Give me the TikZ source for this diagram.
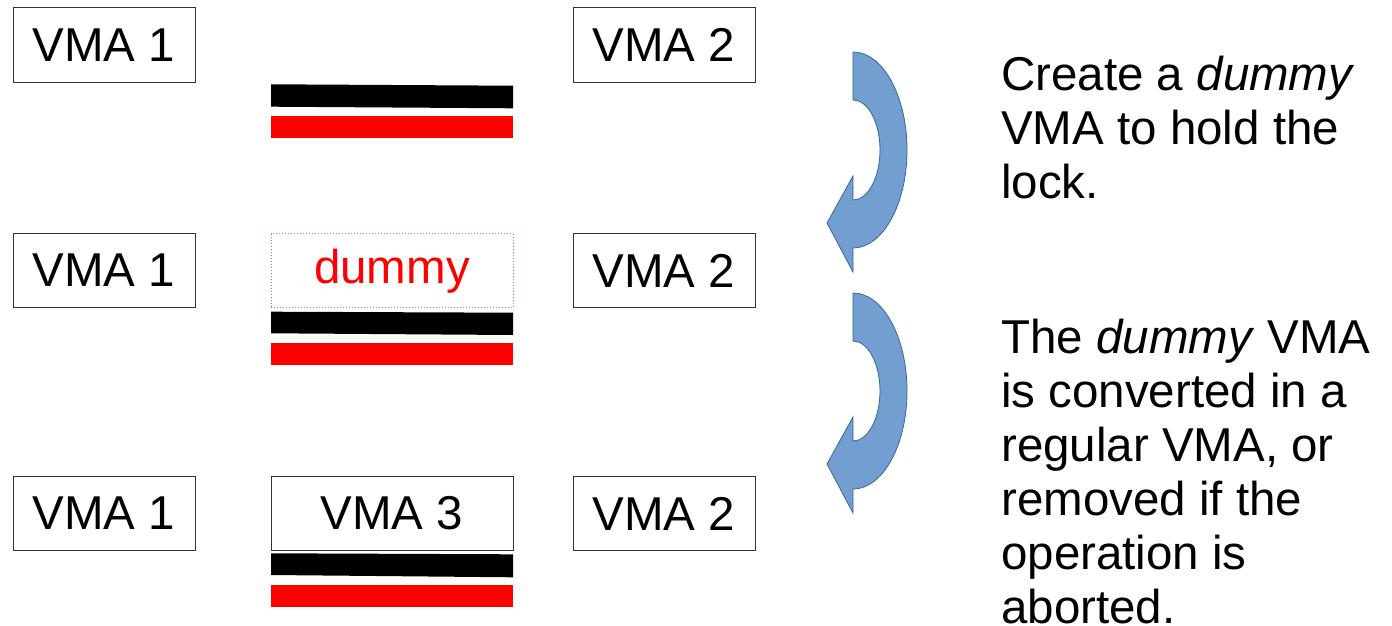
\documentclass[tikz,border=0pt]{standalone}
\usepackage{fontspec}
\setmainfont{Liberation Sans}
\begin{document}
\begin{tikzpicture}[x=1pt,y=-1pt,
  big/.style={font=\fontsize{47.5}{54}\selectfont},
  vma/.style={big,draw=black!80,line width=1pt,minimum width=182pt,minimum height=74pt,inner sep=0pt},
  midbox/.style={vma,minimum width=242pt},
  dummybox/.style={midbox,draw=red!65,dotted,text=red},
  blackbar/.style={fill=black},
  redbar/.style={fill=red},
  note/.style={big,align=left,inner sep=0pt,anchor=base west},
  curvarrow/.pic={
    \filldraw[fill=arrowfill,draw=arrowline,line width=0.8pt]
      (0,0) .. controls (29.8,0) and (54,43.9) .. (54,98)
      .. controls (54,152.1) and (29.8,196) .. (0,196)
      -- (0,220) -- (-26,171) -- (0,124) -- (0,148)
      .. controls (14.9,148) and (27,125.6) .. (27,98)
      .. controls (27,70.4) and (14.9,48) .. (0,48) -- cycle;
  }]
\definecolor{arrowfill}{RGB}{114,159,207}
\definecolor{arrowline}{RGB}{52,101,164}
\useasboundingbox (0,0) rectangle (1392,626);

% row 1
\node[vma] (a1) at (104,45) {VMA 1};
\node[vma] (a2) at (664,45) {VMA 2};
\fill[blackbar] (271,84.3) -- (513,85.7) -- (513,108.3) -- (271,106.7) -- cycle;
\fill[redbar] (271,116) rectangle (513,138.3);

% row 2
\node[vma] (b1) at (104,270.5) {VMA 1};
\node[dummybox] (bd) at (392,270.8) {dummy};
\node[vma] (b2) at (664,270.5) {VMA 2};
\fill[blackbar] (271,311.7) -- (513,312.7) -- (513,335) -- (271,333.3) -- cycle;
\fill[redbar] (271,342.7) rectangle (513,365);

% row 3
\node[vma] (c1) at (104,513.5) {VMA 1};
\node[midbox] (c3) at (392,513) {VMA 3};
\node[vma] (c2) at (664,513.5) {VMA 2};
\fill[blackbar] (271,553.3) -- (513,554.3) -- (513,577.3) -- (271,575) -- cycle;
\fill[redbar] (271,585) rectangle (513,607.3);

% arrows
\pic at (853,52) {curvarrow};
\pic at (853,293) {curvarrow};

% notes (base anchor = baseline of last line)
\node[note] (n1) at (1001,198) {Create a \textit{dummy}\\VMA to hold the\\lock.};
\node[note] (n2) at (1001,623) {The \textit{dummy} VMA\\is converted in a\\regular VMA, or\\removed if the\\operation is\\aborted.};
\end{tikzpicture}
\end{document}
